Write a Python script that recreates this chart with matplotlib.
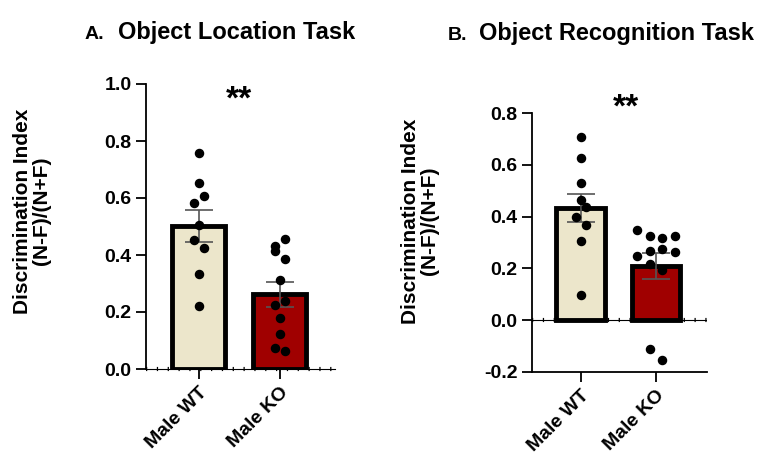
import matplotlib
matplotlib.use('Agg')
import matplotlib.pyplot as plt
import numpy as np

plt.rcParams['font.family'] = ['Liberation Sans', 'DejaVu Sans']
plt.rcParams['font.weight'] = 'bold'

groups = ['Male WT', 'Male KO']
bar_colors = ['#ECE6CB', '#A00000']

# A. Object Location Task
loc_means = [0.502, 0.262]
loc_sem = [0.056, 0.044]
loc_wt = [0.757, 0.652, 0.608, 0.581, 0.505, 0.453, 0.426, 0.335, 0.222]
loc_wt_off = [0, 0, 1, -1, 0, -1, 1, 0, 0]
loc_ko = [0.456, 0.433, 0.414, 0.387, 0.312, 0.239, 0.225, 0.180, 0.122, 0.075, 0.064]
loc_ko_off = [1, -1, -1, 1, 0, 1, -1, 0, 0, -1, 1]

# B. Object Recognition Task
rec_means = [0.432, 0.209]
rec_sem = [0.054, 0.049]
rec_wt = [0.708, 0.627, 0.528, 0.466, 0.438, 0.399, 0.367, 0.305, 0.097]
rec_wt_off = [0, 0, 0, 0, 1, -1, 1, 0, 0]
rec_ko = [0.347, 0.327, 0.317, 0.327, 0.269, 0.276, 0.265, 0.247, 0.218, 0.193, -0.113, -0.155]
rec_ko_off = [-1.5, -0.5, 0.5, 1.5, -0.5, 0.5, 1.5, -1.5, -0.5, 0.5, -0.5, 0.5]

TICK_FS = 14
LABEL_FS = 15


def draw_panel(ax, means, sem, pts, offs, jitter):
    x = np.arange(len(groups))
    ax.bar(x, means, width=0.65, color=bar_colors, edgecolor='black',
           linewidth=3.5, zorder=2)
    ax.errorbar(x, means, yerr=sem, fmt='none', ecolor='#555555',
                elinewidth=1.2, capsize=10, capthick=1.2, zorder=3)
    for i in range(len(groups)):
        xs = i + np.array(offs[i]) * jitter[i]
        ax.scatter(xs, pts[i], s=34, color='black', zorder=4, clip_on=False)
    ax.set_xticks(x)
    ax.set_xticklabels(groups, rotation=45, ha='right', rotation_mode='anchor',
                       fontsize=TICK_FS, fontweight='bold')
    ax.set_xlim(-0.65, 1.68)
    ax.spines['top'].set_visible(False)
    ax.spines['right'].set_visible(False)
    ax.spines['left'].set_linewidth(1.3)
    ax.tick_params(axis='y', length=7, width=1.3, labelsize=TICK_FS)
    ax.tick_params(axis='x', length=7, width=1.3, pad=4)
    for lab in ax.get_yticklabels():
        lab.set_fontweight('bold')


fig = plt.figure(figsize=(7.62, 4.57), dpi=100)

ax1 = fig.add_axes([146 / 762, 1 - 369 / 457, 189 / 762, 285 / 457])
draw_panel(ax1, loc_means, loc_sem, [loc_wt, loc_ko], [loc_wt_off, loc_ko_off],
           [0.06, 0.06])
ax1.set_ylim(0, 1.0)
ax1.set_yticks(np.arange(0, 1.01, 0.2))
ax1.set_yticklabels(['%.1f' % v for v in np.arange(0, 1.01, 0.2)])
ax1.spines['bottom'].set_linewidth(0.8)
ax1.axhline(0, color='black', lw=3, ls=(0, (0.3, 2.3)), zorder=1, clip_on=False)
ax1.text(0.5, 0.915, '**', ha='center', va='baseline', fontsize=24, fontweight='bold')

ax2 = fig.add_axes([532 / 762, 1 - 372 / 457, 175 / 762, 259 / 457])
draw_panel(ax2, rec_means, rec_sem, [rec_wt, rec_ko], [rec_wt_off, rec_ko_off],
           [0.068, 0.166])
ax2.set_ylim(-0.2, 0.8)
ax2.set_yticks(np.arange(-0.2, 0.81, 0.2))
ax2.set_yticklabels(['%.1f' % v for v in np.arange(-0.2, 0.81, 0.2)])
ax2.spines['bottom'].set_linewidth(1.3)
ax2.axhline(0, color='black', lw=0.8, zorder=1)
ax2.axhline(0, color='black', lw=3, ls=(0, (0.3, 2.3)), zorder=1)
ax2.text(0.6, 0.785, '**', ha='center', va='baseline', fontsize=24,
         fontweight='bold', clip_on=False)

# titles
fig.text(85 / 762, 1 - 39 / 457, 'A.', fontsize=14, fontweight='bold', va='baseline')
fig.text(118 / 762, 1 - 39 / 457, 'Object Location Task', fontsize=17,
         fontweight='bold', va='baseline')
fig.text(448 / 762, 1 - 40 / 457, 'B.', fontsize=14, fontweight='bold', va='baseline')
fig.text(479 / 762, 1 - 40 / 457, 'Object Recognition Task', fontsize=17,
         fontweight='bold', va='baseline')

# y labels
ylab = 'Discrimination Index\n(N-F)/(N+F)'
fig.text(32 / 762, 1 - 211 / 457, ylab, rotation=90, ha='center', va='center',
         multialignment='center', fontsize=LABEL_FS, fontweight='bold', linespacing=1.05)
fig.text(420 / 762, 1 - 221 / 457, ylab, rotation=90, ha='center', va='center',
         multialignment='center', fontsize=LABEL_FS, fontweight='bold', linespacing=1.05)

fig.savefig('out.png', dpi=100)
plt.close(fig)
